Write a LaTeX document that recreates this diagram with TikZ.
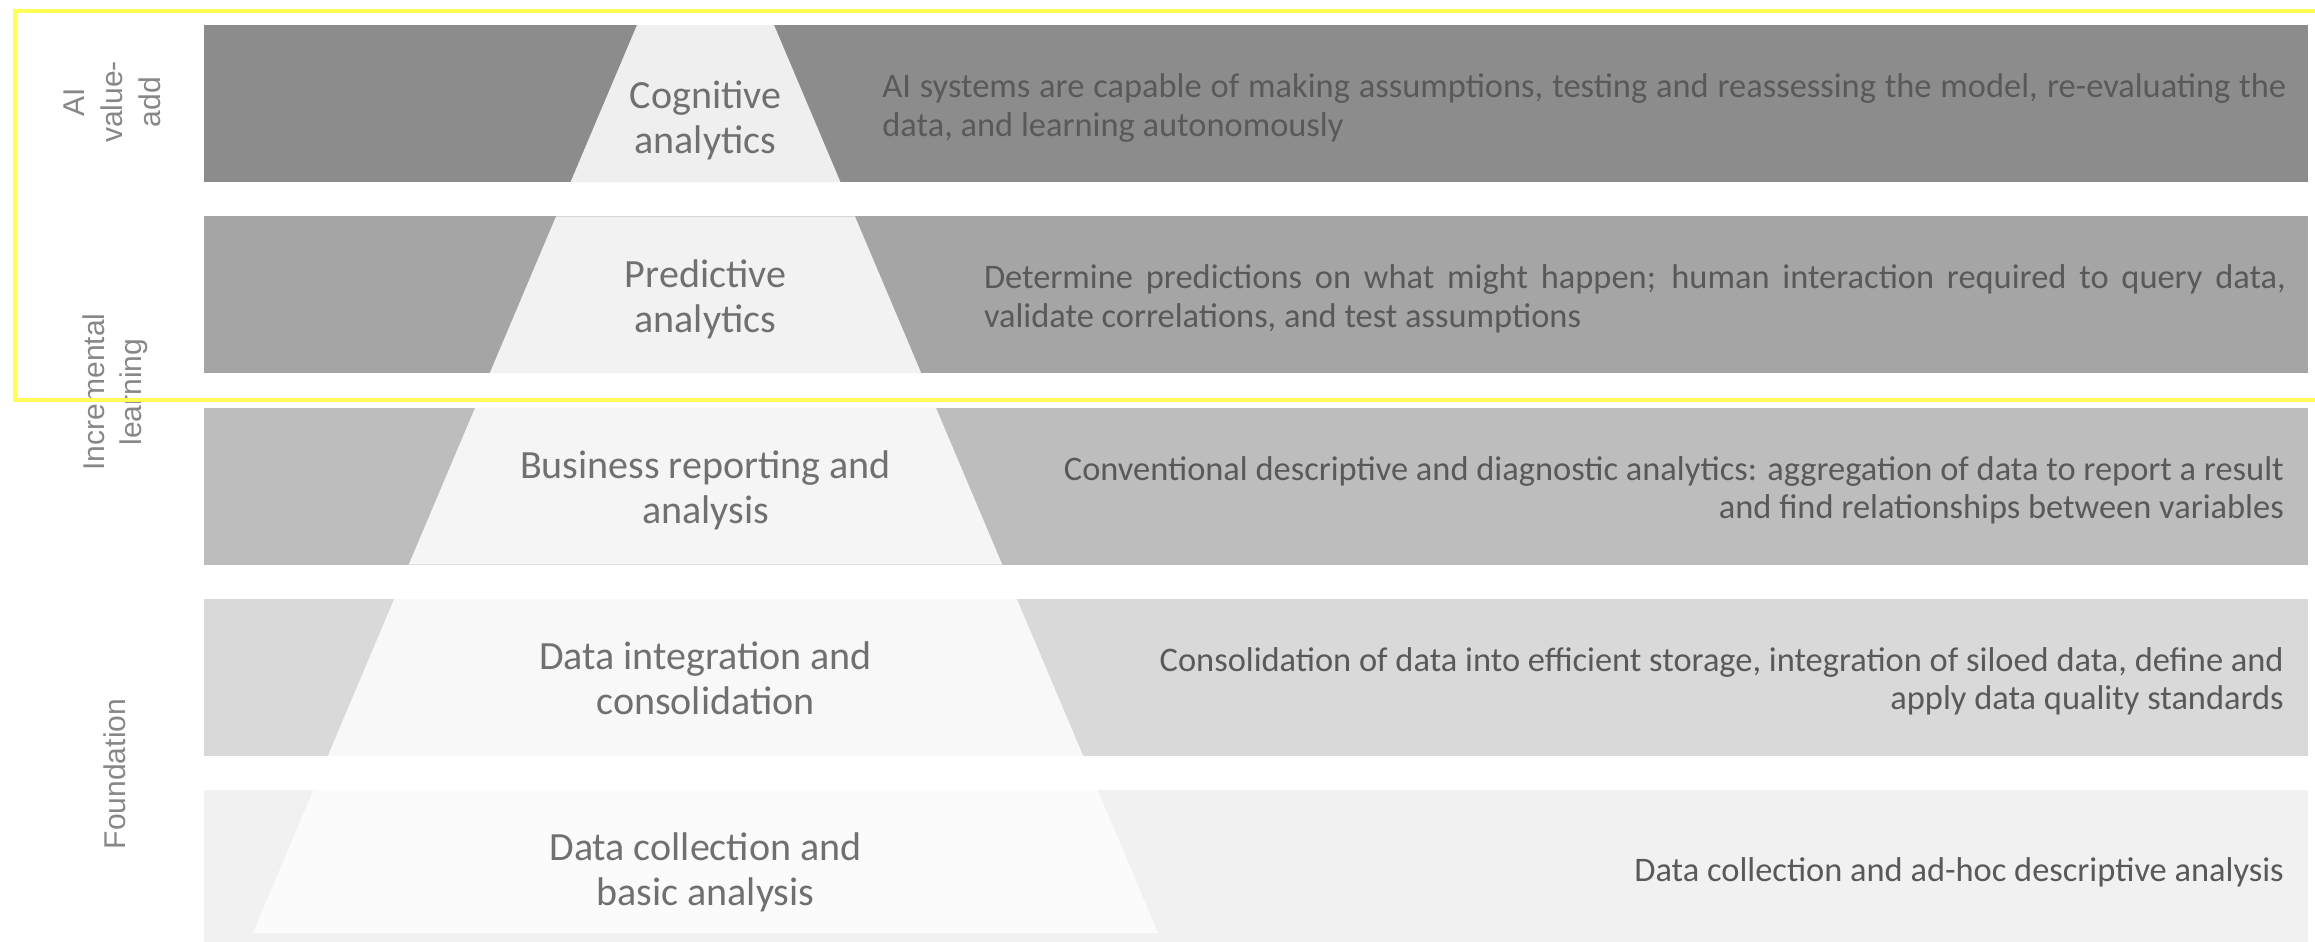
\documentclass[tikz,border=0pt]{standalone}
\usepackage{fontspec}
\setmainfont{Carlito}
\newfontfamily\sidefont{Liberation Sans}
\definecolor{bandA}{HTML}{8C8C8C}
\definecolor{bandB}{HTML}{A5A5A5}
\definecolor{bandC}{HTML}{BDBDBD}
\definecolor{bandD}{HTML}{D9D9D9}
\definecolor{bandE}{HTML}{F1F1F1}
\definecolor{trapA}{HTML}{EFEFEF}
\definecolor{trapB}{HTML}{F2F2F2}
\definecolor{trapC}{HTML}{F5F5F5}
\definecolor{trapD}{HTML}{F8F8F8}
\definecolor{trapE}{HTML}{FBFBFB}
\definecolor{descgray}{HTML}{595959}
\definecolor{labgray}{HTML}{707070}
\definecolor{sidegray}{HTML}{878787}
\definecolor{hiyellow}{RGB}{255,255,85}
\newcommand\hw[1]{(68.5+0.423*(#1-25))}
\newcommand\trapzd[3]{\fill[#1] ({705.5-\hw{#2}},#2) -- ({705.5+\hw{#2}},#2) -- ({705.5+\hw{#3}},#3) -- ({705.5-\hw{#3}},#3) -- cycle;}
\begin{document}
\begin{tikzpicture}[x=0.01cm,y=-0.01cm,
  desctext/.style={inner sep=0pt, text=descgray, font=\fontsize{9.79pt}{10.93pt}\selectfont},
  traptext/.style={inner sep=0pt, text=labgray, align=center, anchor=base, font=\fontsize{11.38pt}{12.8pt}\selectfont},
  sidetext/.style={inner sep=0pt, text=sidegray, align=center, rotate=90, anchor=base, font=\sidefont\fontsize{8.54pt}{10.67pt}\selectfont},
  hibox/.style={draw=hiyellow, line width=1pt}
]
\useasboundingbox (0,0) rectangle (2315,941);
\clip (0,0) rectangle (2315,941);
% bands
\fill[bandA] (203.5,25) rectangle (2308.3,182);
\fill[bandB] (203.5,216.25) rectangle (2308.3,373.25);
\fill[bandC] (203.5,407.5) rectangle (2308.3,564.5);
\fill[bandD] (203.5,598.75) rectangle (2308.3,755.75);
\fill[bandE] (203.5,790) rectangle (2308.3,945);
% pyramid slices
\trapzd{trapA}{25}{182}
\trapzd{trapB}{216.25}{373.25}
\trapzd{trapC}{407.5}{564.5}
\trapzd{trapD}{598.75}{755.75}
\trapzd{trapE}{790}{933}
% pyramid labels (anchor = baseline of last line)
\node[traptext] (c1) at (705.5,153.3) {Cognitive\\analytics};
\node[traptext] (c2) at (705.5,332) {Predictive\\analytics};
\node[traptext] (c3) at (705.5,523.3) {Business reporting and\\analysis};
\node[traptext] (c4) at (705.5,714.5) {Data integration and\\consolidation};
\node[traptext] (c5) at (705.5,905.8) {Data collection and\\basic analysis};
% descriptions
\node[desctext, anchor=base west, align=left] (d1) at (881.7,136.2)
  {\makebox[14.028cm][s]{AI systems are capable of making assumptions, testing and reassessing the model, re-evaluating the}\\data, and learning autonomously};
\node[desctext, anchor=base west, align=left] (d2) at (983.3,327.4)
  {\makebox[13.012cm][s]{Determine predictions on what might happen; human interaction required to query data,}\\validate correlations, and test assumptions};
\node[desctext, anchor=base east, align=right] (d3) at (2284.5,518.7)
  {Conventional descriptive and diagnostic analytics: aggregation of data to report a result\\and find relationships between variables};
\node[desctext, anchor=base east, align=right] (d4) at (2284.5,709.9)
  {Consolidation of data into efficient storage, integration of siloed data, define and\\apply data quality standards};
\node[desctext, anchor=base east, align=right] (d5) at (2284.5,881.7)
  {Data collection and ad-hoc descriptive analysis};
% side labels
\node[sidetext] (s1) at (160,102) {AI\\value-\\add};
\node[sidetext] (s2) at (141.7,392) {Incremental\\learning};
\node[sidetext] (s3) at (125,774) {Foundation};
% highlight frame
\draw[hibox] (15,11) rectangle (2335,400);
\end{tikzpicture}
\end{document}
